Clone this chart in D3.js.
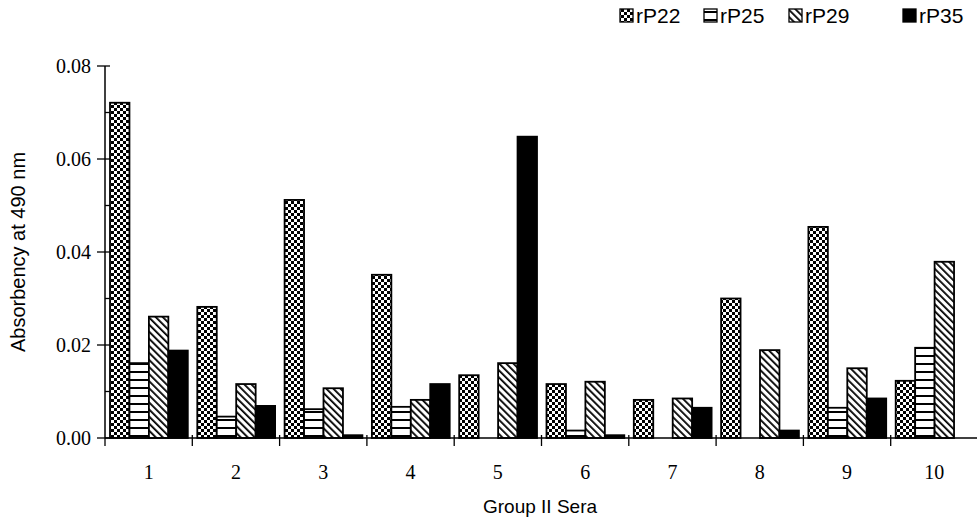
<!DOCTYPE html>
<html><head><meta charset="utf-8">
<script src="https://cdn.jsdelivr.net/npm/d3@7"></script>
<style>body{margin:0;background:#fff}svg{display:block}</style>
</head><body>
<svg id="chart" width="977" height="518"></svg>
<script>
const categories = ["1","2","3","4","5","6","7","8","9","10"];
const seriesNames = ["rP22","rP25","rP29","rP35"];
const rP22 = [0.0721,0.0282,0.0512,0.0351,0.0135,0.0116,0.0082,0.0300,0.0454,0.0123];
const rP25 = [0.0161,0.0046,0.0062,0.0067,0,0.0016,0,0,0.0065,0.0194];
const rP29 = [0.0261,0.0116,0.0107,0.0082,0.0161,0.0121,0.0085,0.0189,0.0150,0.0379];
const rP35 = [0.0188,0.0069,0.0006,0.0116,0.0648,0.0006,0.0065,0.0016,0.0085,0];
const yTicks = [0,0.02,0.04,0.06,0.08];
const yMinorTicks = [0.01,0.03,0.05,0.07];
const seriesValues = {rP22, rP25, rP29, rP35};

(function(){
const svg = d3.select("#chart");
const defs = svg.append("defs");
const pc = defs.append("pattern").attr("id","p-rP22").attr("patternUnits","userSpaceOnUse").attr("width",6).attr("height",6);
pc.append("rect").attr("width",6).attr("height",6).attr("fill","#fff");
pc.append("rect").attr("width",3).attr("height",3).attr("fill","#000");
pc.append("rect").attr("x",3).attr("y",3).attr("width",3).attr("height",3).attr("fill","#000");
const ph = defs.append("pattern").attr("id","p-rP25").attr("patternUnits","userSpaceOnUse").attr("width",8).attr("height",8);
ph.append("rect").attr("width",8).attr("height",8).attr("fill","#fff");
ph.append("rect").attr("y",3).attr("width",8).attr("height",2).attr("fill","#000");
const pd = defs.append("pattern").attr("id","p-rP29").attr("patternUnits","userSpaceOnUse").attr("width",5).attr("height",5).attr("patternTransform","rotate(-45)");
pd.append("rect").attr("width",5).attr("height",5).attr("fill","#fff");
pd.append("rect").attr("width",1.8).attr("height",5).attr("fill","#000");

const fills = {rP22:"url(#p-rP22)", rP25:"url(#p-rP25)", rP29:"url(#p-rP29)", rP35:"#000"};

const mLeft = 105, mRight = 978, mTop = 66, mBottom = 438;
const x = d3.scaleBand().domain(categories).range([mLeft, mRight]).paddingInner(0).paddingOuter(0);
const x1 = d3.scaleBand().domain(seriesNames).range([5, x.bandwidth()-4.5]).padding(0);
const y = d3.scaleLinear().domain([0,0.08]).range([mBottom, mTop]);

const g = svg.append("g");
categories.forEach((c,i)=>{
  seriesNames.forEach(s=>{
    const v = seriesValues[s][i];
    if (v <= 0) return;
    g.append("rect")
      .attr("x", x(c)+x1(s))
      .attr("y", y(v))
      .attr("width", x1.bandwidth())
      .attr("height", y(0)-y(v))
      .attr("fill", fills[s])
      .attr("stroke","#000").attr("stroke-width",1.8);
  });
});

const serif = "Liberation Serif, Times New Roman, serif";
const sans = "Liberation Sans, Arial, sans-serif";
const ya = svg.append("g");
ya.append("line").attr("x1",mLeft).attr("x2",mLeft).attr("y1",y(0.08)).attr("y2",y(0)).attr("stroke","#000").attr("stroke-width",1.5);
yTicks.forEach(t=>{
  ya.append("line").attr("x1",mLeft-8).attr("x2",mLeft+5).attr("y1",y(t)).attr("y2",y(t)).attr("stroke","#000").attr("stroke-width",1.3);
  ya.append("text").attr("x",mLeft-14).attr("y",y(t)).attr("dy","0.35em").attr("text-anchor","end")
    .attr("font-family",serif).attr("font-size",20).text(d3.format(".2f")(t));
});
yMinorTicks.forEach(t=>{
  ya.append("line").attr("x1",mLeft).attr("x2",mLeft+5).attr("y1",y(t)).attr("y2",y(t)).attr("stroke","#000").attr("stroke-width",1.3);
});
const xa = svg.append("g");
xa.append("line").attr("x1",mLeft).attr("x2",977).attr("y1",y(0)).attr("y2",y(0)).attr("stroke","#000").attr("stroke-width",1.5);
categories.forEach((c,i)=>{
  const bx = x(c);
  if (i>0) xa.append("line").attr("x1",bx).attr("x2",bx).attr("y1",y(0)-3).attr("y2",y(0)+8).attr("stroke","#000").attr("stroke-width",1.3);
  xa.append("text").attr("x",bx+x.bandwidth()/2).attr("y",479).attr("text-anchor","middle")
    .attr("font-family",serif).attr("font-size",20).text(c);
});
xa.append("line").attr("x1",mLeft).attr("x2",mLeft).attr("y1",y(0)).attr("y2",y(0)+8).attr("stroke","#000").attr("stroke-width",1.3);

svg.append("text").attr("x",540).attr("y",513).attr("text-anchor","middle")
  .attr("font-family",sans).attr("font-size",19).text("Group II Sera");
svg.append("text").attr("transform",`translate(25,${(mTop+mBottom)/2}) rotate(-90)`).attr("text-anchor","middle")
  .attr("font-family",sans).attr("font-size",20).text("Absorbency at 490 nm");

const legX = [620, 704, 789, 903];
const lg = svg.append("g");
seriesNames.forEach((s,i)=>{
  lg.append("rect").attr("x",legX[i]).attr("y",9).attr("width",13).attr("height",13)
    .attr("fill",fills[s]).attr("stroke","#000").attr("stroke-width",1.3);
  lg.append("text").attr("x",legX[i]+16).attr("y",23)
    .attr("font-family",sans).attr("font-size",21).text(s);
});
})();
</script>
</body></html>
